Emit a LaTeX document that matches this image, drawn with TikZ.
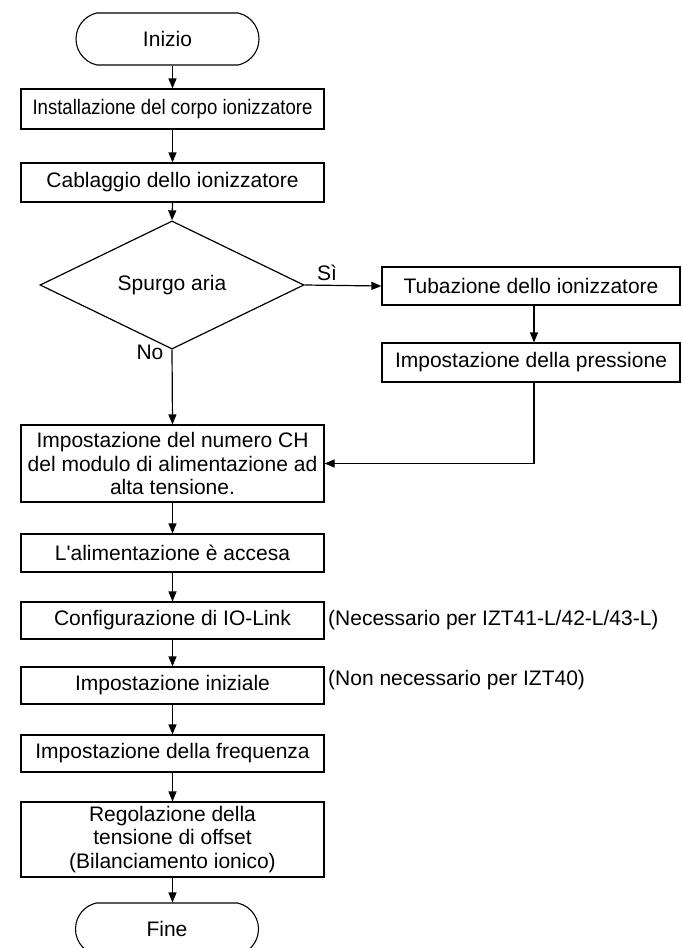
\documentclass[tikz,border=0pt]{standalone}
\usepackage{fontspec}
\setmainfont{Liberation Sans}
\usetikzlibrary{arrows.meta,shapes.misc,shapes.geometric}
\newcommand\fsz{\fontsize{21}{23.5}\selectfont}
\tikzset{
  box/.style={draw, line width=1.2pt, minimum width=303pt, inner sep=0pt, align=center, font=\fsz},
  term/.style={draw, line width=1.1pt, rounded rectangle, rounded rectangle arc length=155, minimum width=183pt, minimum height=52pt, inner sep=0pt, font=\fsz},
  dec/.style={draw, line width=1.2pt, diamond, minimum width=264pt, minimum height=92pt, inner sep=0pt, font=\fsz},
  arr/.style={-{Triangle[length=10pt,width=8pt]}, line width=1.2pt},
  lbl/.style={inner sep=0pt, font=\fsz},
}
\begin{document}
\begin{tikzpicture}[x=1pt,y=-1pt]
\useasboundingbox (0,0) rectangle (681,948);
\node[term] (start) at (167.5,39) {Inizio};
\node[box, minimum height=40pt] (b1) at (172.5,109) {\scalebox{0.885}[1]{Installazione del corpo ionizzatore}};
\node[box, minimum height=39pt] (b2) at (172.5,182.5) {Cablaggio dello ionizzatore};
\node[dec] (d) at (172,285) {Spurgo aria};
\node[box, minimum width=298pt, minimum height=38pt] (r1) at (531,286) {Tubazione dello ionizzatore};
\node[box, minimum width=298pt, minimum height=39pt] (r2) at (531,362.5) {Impostazione della pressione};
\node[box, minimum height=77pt] (b3) at (172.5,463.5) {Impostazione del numero CH\\del modulo di alimentazione ad\\alta tensione.};
\node[box, minimum height=38pt] (b4) at (172.5,553) {L\textquotesingle alimentazione è accesa};
\node[box, minimum height=37pt] (b5) at (172.5,620.5) {Configurazione di IO-Link};
\node[box, minimum height=37pt] (b6) at (172.5,685.5) {Impostazione iniziale};
\node[box, minimum height=37pt] (b7) at (172.5,753.5) {Impostazione della frequenza};
\node[box, minimum height=75pt] (b8) at (172.5,839.5) {Regolazione della\\tensione di offset\\(Bilanciamento ionico)};
\node[term] (fine) at (167,929) {Fine};

\node[lbl, anchor=west] (n1) at (328,620) {(Necessario per IZT41-L/42-L/43-L)};
\node[lbl, anchor=west] (n2) at (328,680) {(Non necessario per IZT40)};
\node[lbl] (si) at (327,273) {Sì};
\node[lbl] (no) at (150,352) {No};

\draw[arr] (start.south -| b1.north) -- (b1.north);
\draw[arr] (b1.south) -- (b2.north);
\draw[arr] (b2.south) -- (d.north);
\draw[arr] (d.east) -- (r1.west);
\draw[arr] ([xshift=3pt]r1.south) -- ([xshift=3pt]r2.north);
\draw[arr] ([xshift=3pt]r2.south) |- (b3.east);
\draw[arr] (d.south) -- (b3.north);
\draw[arr] (b3.south) -- (b4.north);
\draw[arr] (b4.south) -- (b5.north);
\draw[arr] (b5.south) -- (b6.north);
\draw[arr] (b6.south) -- (b7.north);
\draw[arr] (b7.south) -- (b8.north);
\draw[arr] (b8.south) -- (fine.north -| b8.south);
\end{tikzpicture}
\end{document}
